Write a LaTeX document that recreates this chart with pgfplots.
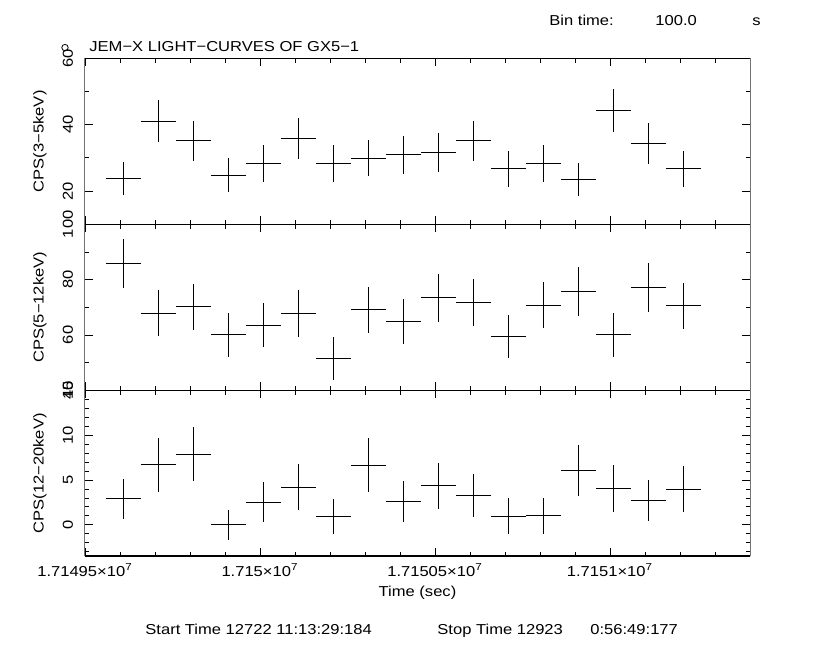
\documentclass[border=0pt]{standalone}
\usepackage{fontspec}
\setmainfont{Liberation Sans}[FakeStretch=1.15]
\usepackage{pgfplots}
\usepackage{pgfplotstable}
\pgfplotsset{compat=1.18}

% time is given as offset from 1.71495e7 s (100 s bins), counts per second and 1-sigma errors
\pgfplotstableread{
t    lo     elo   mid   emid  hi    ehi   dt
110  23.9   5.0   85.8  9.0   2.92  2.25  50
210  41.1   6.4   67.8  8.3   6.70  3.00  50
310  35.2   6.0   70.2  8.4   7.87  3.03  50
410  24.8   5.2   60.0  7.8   0.00  1.70  50
510  28.4   5.6   63.6  8.0   2.55  2.27  50
610  35.8   6.2   67.8  8.5   4.19  2.58  50
710  28.4   5.6   51.6  7.7   0.94  1.95  50
810  29.9   5.5   69.1  8.4   6.63  3.00  50
910  30.9   5.6   64.9  8.0   2.62  2.27  50
1010 31.7   5.9   73.4  8.7   4.34  2.53  50
1110 35.2   6.0   71.8  8.5   3.26  2.40  50
1210 26.7   5.4   59.3  7.8   0.97  2.00  50
1310 28.4   5.6   70.8  8.4   1.00  2.00  50
1410 23.6   5.0   75.6  8.8   6.07  2.85  50
1510 44.3   6.4   60.0  7.9   4.08  2.60  50
1610 34.3   6.1   77.2  8.9   2.73  2.30  50
1710 26.7   5.4   70.5  8.4   4.00  2.57  50
}\lc

\pgfplotsset{
  panel/.style={
    scale only axis, width=332.5pt, height=83pt,
    xmin=0, xmax=1900,
    xtick={0,500,1000,1500},
    minor xtick={100,200,300,400,600,700,800,900,1100,1200,1300,1400,1600,1700,1800},
    tick align=inside, major tick length=4pt, minor tick length=2.2pt,
    tick style={black, line width=0.45pt},
    separate axis lines,
    x axis line style={black, line width=0.5pt},
    y axis line style={black!55, line width=0.5pt},
    yticklabel style={xshift=-2.5pt, rotate=90, anchor=south},
    ylabel style={at={(axis description cs:-0.068,0.5)}, anchor=center},
    /pgf/number format/assume math mode=true,
    font=\fontsize{7.2}{8}\selectfont,
  },
  lc/.style={draw=none, mark=none,
    error bars/.cd, x dir=both, x explicit, y dir=both, y explicit,
    error mark=none, error bar style={draw=black, line width=0.5pt}},
}

\begin{document}
\begin{tikzpicture}[font=\fontsize{7.2}{8}\selectfont]
\useasboundingbox (0,0) rectangle (415pt,-331pt);

\begin{axis}[panel, at={(42.5pt,-29.15pt)}, anchor=north west,
  ymin=10, ymax=60, ytick={20,40,60}, minor ytick={10,30,50},
  xticklabels={}, ylabel={CPS(3−5keV)}]
\addplot[lc] table[x=t, y=lo, x error=dt, y error=elo] {\lc};
\end{axis}

\begin{axis}[panel, at={(42.5pt,-112.15pt)}, anchor=north west,
  ymin=40, ymax=100, ytick={40,60,80,100}, minor ytick={50,70,90},
  xticklabels={}, ylabel={CPS(5−12keV)}]
\addplot[lc] table[x=t, y=mid, x error=dt, y error=emid] {\lc};
\end{axis}

\begin{axis}[panel, at={(42.5pt,-195.15pt)}, anchor=north west,
  ymin=-3.5, ymax=15, ytick={0,5,10,15},
  minor ytick={-3,-2,-1,1,2,3,4,6,7,8,9,11,12,13,14},
  xticklabels={1.71495×10\textsuperscript{7},1.715×10\textsuperscript{7},1.71505×10\textsuperscript{7},1.7151×10\textsuperscript{7}},
  xlabel={Time (sec)},
  xlabel style={at={(axis description cs:0.5,0)}, anchor=center, yshift=-18pt},
  ylabel={CPS(12−20keV)}]
\addplot[lc] table[x=t, y=hi, x error=dt, y error=ehi] {\lc};
\draw[black, line width=1pt] (rel axis cs:0,0) -- (rel axis cs:1,0);
\end{axis}

\draw[line width=0.4pt] (32.5pt,-23.8pt) circle (1.6pt);
\node[anchor=base west, inner sep=0pt] at (44.5pt,-26pt) {JEM−X LIGHT−CURVES OF GX5−1};
\node[anchor=base west, inner sep=0pt] at (274.5pt,-13pt) {Bin time:};
\node[anchor=base west, inner sep=0pt] at (327.5pt,-13pt) {100.0};
\node[anchor=base west, inner sep=0pt] at (376pt,-13pt) {s};
\node[anchor=base west, inner sep=0pt] at (72.5pt,-317pt) {Start Time 12722 11:13:29:184};
\node[anchor=base west, inner sep=0pt] at (218.5pt,-317pt) {Stop Time 12923};
\node[anchor=base west, inner sep=0pt] at (295pt,-317pt) {0:56:49:177};
\end{tikzpicture}
\end{document}
